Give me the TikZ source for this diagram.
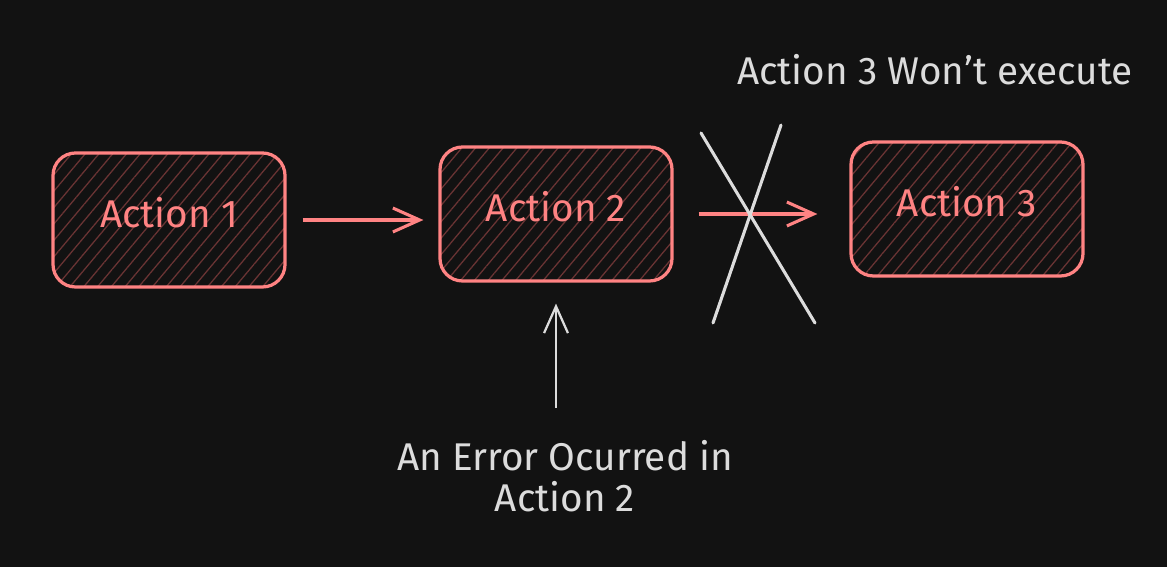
\documentclass[tikz,border=0pt]{standalone}
\usepackage{fontspec}
\setmainfont{Fira Sans}
\usepackage{xcolor}
\definecolor{canvas}{HTML}{121212}
\definecolor{salmon}{HTML}{FF8383}
\definecolor{hatchred}{HTML}{6A3434}
\definecolor{chalk}{HTML}{DCDCDC}
\usetikzlibrary{arrows.meta,positioning,patterns.meta}
\newcommand{\handfont}{\fontsize{27.5}{29}\selectfont}
\tikzset{
  >={Straight Barb[length=19pt,width=17pt]},
  action/.style={rectangle,draw=salmon,line width=2.3pt,rounded corners=16pt,minimum width=5.8cm,minimum height=3.35cm,text height=0.7cm,text depth=0.3cm,pattern={Lines[angle=50,distance=7.5pt,line width=0.9pt]},pattern color=hatchred,text=salmon,font=\handfont},
  flow/.style={->,line width=2.2pt,draw=salmon},
  pointer/.style={->,line width=1.6pt,draw=chalk},
  cross/.style={line width=2.2pt,draw=chalk,line cap=round},
  remark/.style={text=chalk,font=\handfont,align=center}
}

\begin{document}
\begin{tikzpicture}
  \useasboundingbox (0,0) rectangle (29.175,14.175);
  \fill[canvas] (0,0) rectangle (29.175,14.175);

  % Action boxes
  \node[action] (act1) at (4.225,8.675) {Action 1};
  \node[action] (act2) at (13.9,8.825) {Action 2};
  \node[action] (act3) at (24.175,8.95) {Action 3};

  % Flow between actions
  \draw[flow,shorten <=0.425cm,shorten >=0.375cm] (act1.east) -- (act1.east -| act2.west);
  \draw[flow,shorten <=0.625cm,shorten >=0.8cm] (act2.east) -- (act2.east -| act3.west);

  % Cross over the second step
  \coordinate (xa1) at (17.525,10.85);
  \coordinate (xa2) at (20.375,6.1);
  \coordinate (xb1) at (19.525,11.05);
  \coordinate (xb2) at (17.825,6.1);
  \draw[cross] (xa1) -- (xa2);
  \draw[cross] (xb1) -- (xb2);

  % Remarks
  \node[remark] (skip) at (23.375,12.425) {Action 3 Won't execute};
  \node[remark] (err) at (14.125,2.275) {An Error Ocurred in\\Action 2};
  \coordinate (errtail) at (13.9,3.975);
  \draw[pointer,shorten >=0.525cm] (errtail) -- (act2.south);
\end{tikzpicture}
\end{document}
